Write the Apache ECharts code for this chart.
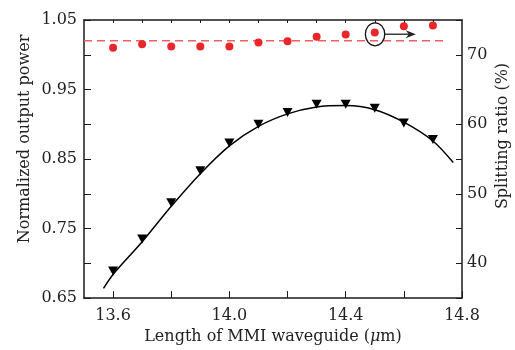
<!DOCTYPE html>
<html>
<head>
<meta charset="utf-8">
<script src="https://cdn.jsdelivr.net/npm/echarts@6/dist/echarts.min.js"></script>
<style>html,body{margin:0;padding:0;background:#fff}#c{width:515px;height:350px}</style>
</head>
<body>
<div id="c"></div>
<script>
// Data
const lengths = [13.6, 13.7, 13.8, 13.9, 14.0, 14.1, 14.2, 14.3, 14.4, 14.5, 14.6, 14.7];
const powerValues = [0.689, 0.735, 0.787, 0.833, 0.873, 0.900, 0.917, 0.929, 0.929, 0.923, 0.902, 0.878];
const ratioValues = [71.0, 71.5, 71.2, 71.2, 71.2, 71.75, 71.95, 72.6, 72.9, 73.2, 74.1, 74.2];
const fitX = [13.567, 13.6, 13.7, 13.8, 13.9, 14.0, 14.1, 14.2, 14.3, 14.4, 14.5, 14.6, 14.7, 14.77];
const fitY = [0.664, 0.684, 0.731, 0.782, 0.829, 0.869, 0.897, 0.915, 0.925, 0.927, 0.921, 0.903, 0.876, 0.845];
const refLineX = [13.5, 14.75];
const refLineY = [1.02, 1.02];
const xTickValues = [13.6, 13.8, 14.0, 14.2, 14.4, 14.6, 14.8];
const xLabelValues = [13.6, 14.0, 14.4, 14.8];
const topTickValues = [13.6, 13.7, 13.8, 13.9, 14.0, 14.1, 14.2, 14.3, 14.4, 14.5, 14.6, 14.7];
const leftTickValues = [0.65, 0.70, 0.75, 0.80, 0.85, 0.90, 0.95, 1.00, 1.05];
const leftLabelValues = [0.65, 0.75, 0.85, 0.95, 1.05];
const rightTickValues = [35, 40, 45, 50, 55, 60, 65, 70, 75];
const rightLabelValues = [40, 50, 60, 70];
const xTitle = 'Length of MMI waveguide ({i|μ}m)';
const leftTitle = 'Normalized output power';
const rightTitle = 'Splitting ratio (%)';
const annotatedIndex = 9;

const FONT = "'DejaVu Serif', serif";
const TXT = '#222';
const AX = '#1a1a1a';

const chart = echarts.init(document.getElementById('c'), null, {renderer: 'canvas'});

const axisLineStyle = {lineStyle: {color: AX, width: 1.5}};
const labelStyle = {fontFamily: FONT, fontSize: 16, color: TXT};
const option = {
  animation: false,
  backgroundColor: '#fff',
  textStyle: {fontFamily: FONT, fontSize: 16, color: TXT},
  grid: {left: 84, right: 53, top: 20, bottom: 51, containLabel: false},
  xAxis: [
    {
      type: 'value', position: 'bottom', min: 13.5, max: 14.8,
      axisLine: axisLineStyle,
      axisTick: {inside: true, length: 7, lineStyle: {color: AX, width: 1}, customValues: xTickValues},
      axisLabel: Object.assign({customValues: xLabelValues, formatter: v => Number(v).toFixed(1), margin: 10}, labelStyle),
      splitLine: {show: false},
      name: xTitle, nameLocation: 'middle', nameGap: 30,
      nameTextStyle: {fontFamily: FONT, fontSize: 16, color: TXT, rich: {i: {fontFamily: FONT, fontSize: 16, fontStyle: 'italic', color: TXT}}}
    },
    {
      type: 'value', position: 'top', min: 13.5, max: 14.8,
      axisLine: axisLineStyle,
      axisTick: {inside: true, length: 3, lineStyle: {color: AX, width: 1}, customValues: topTickValues},
      axisLabel: {show: false},
      splitLine: {show: false}
    }
  ],
  yAxis: [
    {
      type: 'value', position: 'left', min: 0.65, max: 1.05,
      axisLine: {show: true, lineStyle: {color: AX, width: 1.5}},
      axisTick: {show: true, inside: true, length: 7, lineStyle: {color: AX, width: 1}, customValues: leftTickValues},
      axisLabel: Object.assign({customValues: leftLabelValues, formatter: v => Number(v).toFixed(2), margin: 7}, labelStyle),
      splitLine: {show: false}
    },
    {
      type: 'value', position: 'right', min: 35, max: 75,
      axisLine: {show: true, lineStyle: {color: AX, width: 1.5}},
      axisTick: {show: true, inside: true, length: 6, lineStyle: {color: AX, width: 1}, customValues: rightTickValues},
      axisLabel: Object.assign({customValues: rightLabelValues, formatter: v => String(v), margin: 5}, labelStyle),
      splitLine: {show: false}
    }
  ],
  series: [
    {
      name: 'fit', type: 'line', xAxisIndex: 0, yAxisIndex: 0,
      data: fitX.map((x, i) => [x, fitY[i]]),
      smooth: 0.3, showSymbol: false, symbol: 'none',
      lineStyle: {color: '#000', width: 1.5}, z: 2
    },
    {
      name: 'power', type: 'scatter', xAxisIndex: 0, yAxisIndex: 0,
      data: lengths.map((x, i) => [x, powerValues[i]]),
      symbol: 'triangle', symbolRotate: 180, symbolSize: [10, 9],
      itemStyle: {color: '#000', opacity: 1}, z: 3
    },
    {
      name: 'ref', type: 'line', xAxisIndex: 0, yAxisIndex: 0,
      data: refLineX.map((x, i) => [x, refLineY[i]]),
      showSymbol: false, symbol: 'none',
      lineStyle: {color: '#ef5f5f', width: 1.5, type: [8, 5]}, z: 2
    },
    {
      name: 'ratio', type: 'scatter', xAxisIndex: 0, yAxisIndex: 1,
      data: lengths.map((x, i) => [x, ratioValues[i]]),
      symbol: 'circle', symbolSize: 8,
      itemStyle: {color: '#e8262b', opacity: 1}, z: 4
    }
  ]
};
chart.setOption(option);

const p = chart.convertToPixel({xAxisIndex: 0, yAxisIndex: 1}, [lengths[annotatedIndex], ratioValues[annotatedIndex]]);
const ay = p[1] + 1.7;
const tipX = p[0] + 41;
chart.setOption({
  graphic: [
    {id: 'lt', type: 'text', x: 25, y: 139, rotation: Math.PI / 2,
     style: {text: leftTitle, fontFamily: FONT, fontSize: 16, fill: TXT, align: 'center', verticalAlign: 'middle'}},
    {id: 'rt', type: 'text', x: 503, y: 136, rotation: Math.PI / 2,
     style: {text: rightTitle, fontFamily: FONT, fontSize: 16, fill: TXT, align: 'center', verticalAlign: 'middle'}},
    {id: 'el', type: 'ellipse', shape: {cx: p[0] + 0.3, cy: p[1] + 1.8, rx: 9.7, ry: 11.5},
     style: {fill: 'none', stroke: '#111', lineWidth: 1.3}, z: 10},
    {id: 'ar', type: 'line', shape: {x1: p[0] + 9.5, y1: ay, x2: tipX - 4, y2: ay},
     style: {stroke: '#222', lineWidth: 1.3}, z: 10},
    {id: 'ah', type: 'polygon', shape: {points: [[tipX, ay], [tipX - 10, ay - 4], [tipX - 7, ay], [tipX - 10, ay + 4]]},
     style: {fill: '#222'}, z: 10}
  ]
});
</script>
</body>
</html>
